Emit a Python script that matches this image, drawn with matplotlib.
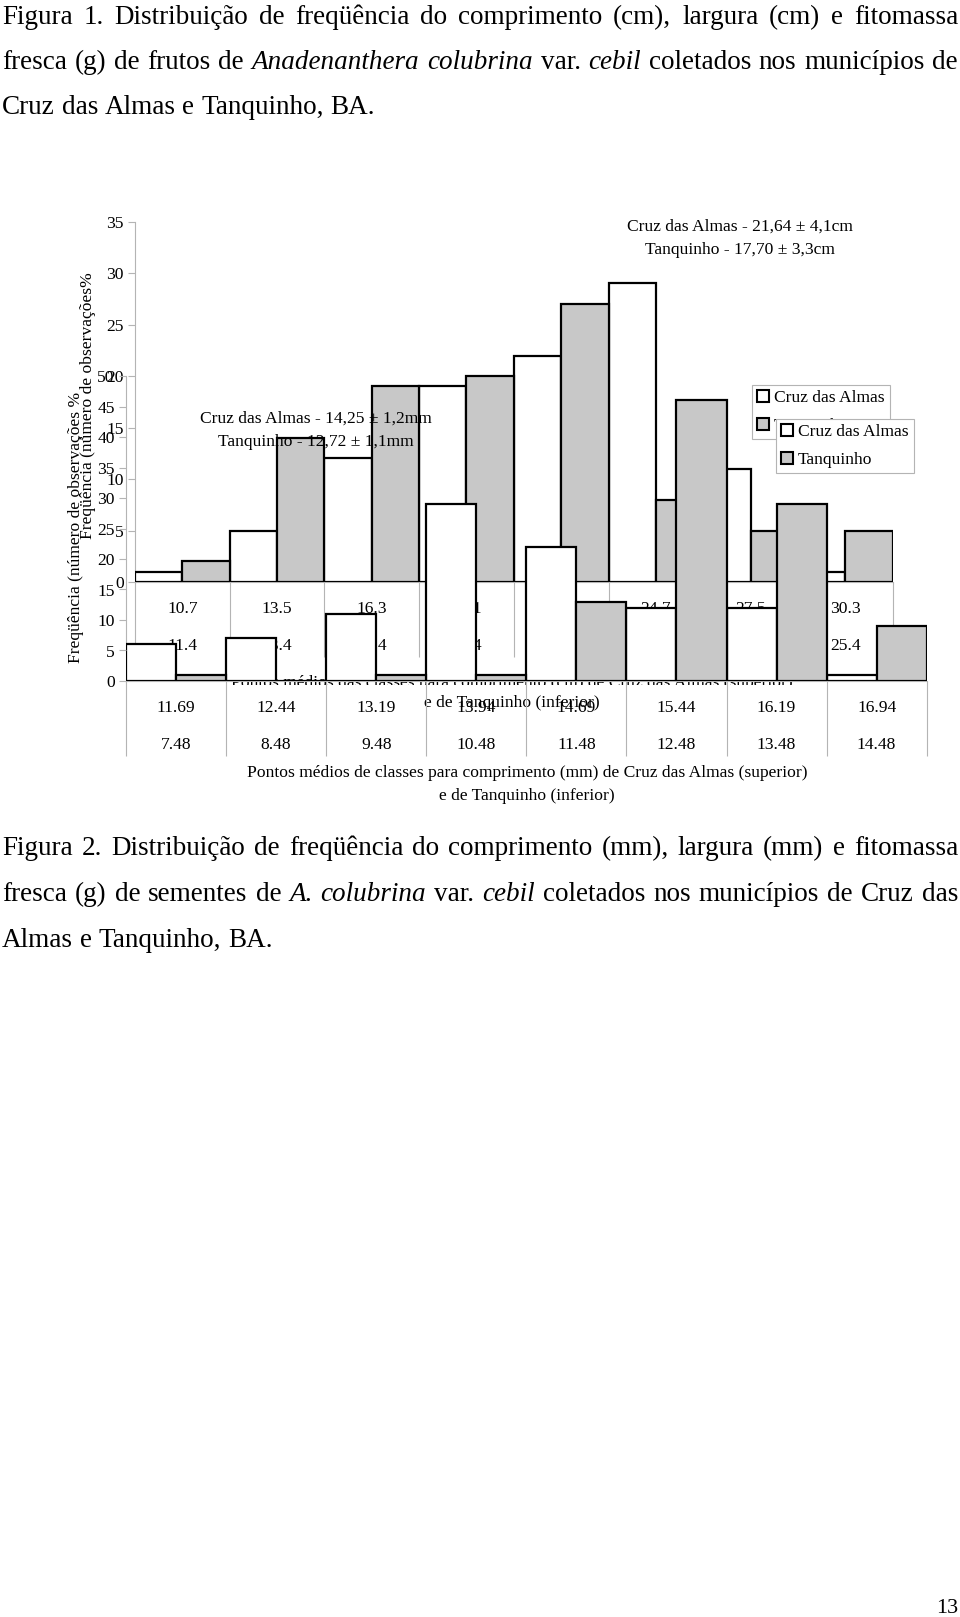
import numpy as np
import matplotlib.pyplot as plt
from matplotlib.patches import Patch
from matplotlib.transforms import Bbox, TransformedBbox, blended_transform_factory

plt.rcParams['font.family'] = ['Liberation Serif', 'DejaVu Serif']

# Figura 1 - comprimento dos frutos (cm)
classes_fruto_sup = ['10.7', '13.5', '16.3', '19.1', '21.9', '24.7', '27.5', '30.3']
classes_fruto_inf = ['11.4', '13.4', '15.4', '17.4', '19.4', '21.4', '23.4', '25.4']
fruto_cruz = [1, 5, 12, 19, 22, 29, 11, 1]
fruto_tanq = [2, 14, 19, 20, 27, 8, 5, 5]

# Figura 2 - comprimento das sementes (mm)
classes_sem_sup = ['11.69', '12.44', '13.19', '13.94', '14.69', '15.44', '16.19', '16.94']
classes_sem_inf = ['7.48', '8.48', '9.48', '10.48', '11.48', '12.48', '13.48', '14.48']
semente_cruz = [6, 7, 11, 29, 22, 12, 12, 1]
semente_tanq = [1, 0, 1, 1, 13, 46, 29, 9]

W, H = 960, 1617
fig = plt.figure(figsize=(W / 100, H / 100), dpi=100)


def fx(x):
    return x / W


def fy(y):
    return 1 - y / H


cinza = '#c8c8c8'
grade = '#b4b4b4'
fs = 12.6


def histograma(pos, cruz, tanq, ymax, sup, inf, y_sup, y_inf, fim):
    x0, y0, x1, y1 = pos
    ax = fig.add_axes([fx(x0), fy(y1), (x1 - x0) / W, (y1 - y0) / H])
    ax.patch.set_visible(False)
    x = np.arange(len(cruz))
    ax.bar(x + 0.25, cruz, width=0.5, color='white', edgecolor='black', linewidth=1.6)
    ax.bar(x + 0.75, tanq, width=0.5, color=cinza, edgecolor='black', linewidth=1.6)
    ax.set_xlim(0, len(cruz))
    ax.set_ylim(0, ymax)
    ax.set_yticks(np.arange(0, ymax + 1, 5))
    ax.set_xticks([])
    ax.tick_params(axis='y', direction='out', length=5, width=0.8, color=grade,
                   pad=3, labelsize=fs)
    for s in ['top', 'right']:
        ax.spines[s].set_visible(False)
    for s in ['left', 'bottom']:
        ax.spines[s].set_color(grade)
        ax.spines[s].set_linewidth(0.8)
        ax.spines[s].set_zorder(0.5)
    # linhas das categorias abaixo do eixo
    ax.vlines(np.arange(len(cruz) + 1), -fim / (y1 - y0), 0,
              transform=ax.get_xaxis_transform(), colors=grade, lw=0.8, clip_on=False)
    tr = blended_transform_factory(ax.transData, fig.transFigure)
    for i in range(len(cruz)):
        ax.text(i + 0.5, fy(y_sup), sup[i], transform=tr, ha='center', va='center', fontsize=fs)
        ax.text(i + 0.5, fy(y_inf), inf[i], transform=tr, ha='center', va='center', fontsize=fs)
    return ax


def legenda(ax, x, y):
    h = [Patch(facecolor='white', edgecolor='black', linewidth=1.5),
         Patch(facecolor=cinza, edgecolor='black', linewidth=1.5)]
    leg = ax.legend(h, ['Cruz das Almas', 'Tanquinho'], loc='upper left',
                    bbox_to_anchor=(fx(x), fy(y)), bbox_transform=fig.transFigure,
                    fontsize=fs, frameon=True, fancybox=False, framealpha=1,
                    edgecolor=grade, borderpad=0.3, labelspacing=0.68,
                    handlelength=0.65, handleheight=0.65, handletextpad=0.3,
                    borderaxespad=0)
    leg.get_frame().set_linewidth(0.8)


ff = fig.transFigure

# grafico dos frutos (desenhado primeiro, fica por baixo)
axA = histograma((135, 221.7, 892.6, 582), fruto_cruz, fruto_tanq, 35,
                 classes_fruto_sup, classes_fruto_inf, 609, 646, 75)
axA.text(fx(740), fy(227), 'Cruz das Almas - 21,64 ± 4,1cm', transform=ff,
         ha='center', va='center', fontsize=fs)
axA.text(fx(740), fy(250), 'Tanquinho - 17,70 ± 3,3cm', transform=ff,
         ha='center', va='center', fontsize=fs)
t = axA.text(fx(512), fy(683), 'Pontos médios das classes para comprimento (cm) de Cruz das Almas (superior)',
             transform=ff, ha='center', va='center', fontsize=fs)
t.set_clip_box(TransformedBbox(Bbox([[0, fy(685)], [1, 1]]), ff))
t.set_clip_on(True)
axA.text(fx(512), fy(703), 'e de Tanquinho (inferior)', transform=ff,
         ha='center', va='center', fontsize=fs)
axA.text(fx(88), fy(406), 'Freqüência (número de observações%', transform=ff,
         ha='center', va='center', rotation=90, fontsize=fs)
legenda(axA, 752, 385)

# grafico das sementes por cima
axC = histograma((126, 376, 926.7, 681), semente_cruz, semente_tanq, 50,
                 classes_sem_sup, classes_sem_inf, 708, 745, 75)
axC.text(fx(316), fy(419), 'Cruz das Almas - 14,25 ± 1,2mm', transform=ff,
         ha='center', va='center', fontsize=fs)
axC.text(fx(316), fy(442), 'Tanquinho - 12,72 ± 1,1mm', transform=ff,
         ha='center', va='center', fontsize=fs)
axC.text(fx(527), fy(773), 'Pontos médios de classes para comprimento (mm) de Cruz das Almas (superior)',
         transform=ff, ha='center', va='center', fontsize=fs)
axC.text(fx(527), fy(796), 'e de Tanquinho (inferior)', transform=ff,
         ha='center', va='center', fontsize=fs)
axC.text(fx(76), fy(527), 'Freqüência (número de observações %', transform=ff,
         ha='center', va='center', rotation=90, fontsize=fs)
legenda(axC, 776, 419)

# legendas das figuras (texto justificado)
fs_txt = 19.5
r = fig.canvas.get_renderer()


def linha(y, texto, justificar):
    objs = []
    for p in texto.split(' '):
        it = p.startswith('_')
        objs.append(fig.text(0, fy(y), p.strip('_'), fontsize=fs_txt, va='baseline',
                             style='italic' if it else 'normal'))
    larg = [o.get_window_extent(r).width for o in objs]
    esp = fs_txt * 100 / 72 * 0.25
    if justificar:
        esp = (958 - 2 - sum(larg)) / (len(objs) - 1)
    x = 2
    for o, w in zip(objs, larg):
        o.set_x(fx(x))
        x += w + esp


linha(24, 'Figura 1. Distribuição de freqüência do comprimento (cm), largura (cm) e fitomassa', True)
linha(69, 'fresca (g) de frutos de _Anadenanthera_ _colubrina_ var. _cebil_ coletados nos municípios de', True)
linha(114, 'Cruz das Almas e Tanquinho, BA.', False)
linha(855, 'Figura 2. Distribuição de freqüência do comprimento (mm), largura (mm) e fitomassa', True)
linha(901, 'fresca (g) de sementes de _A._ _colubrina_ var. _cebil_ coletados nos municípios de Cruz das', True)
linha(947, 'Almas e Tanquinho, BA.', False)

fig.text(fx(958), fy(1613), '13', ha='right', va='baseline', fontsize=16)

fig.savefig('out.png', dpi=100)
